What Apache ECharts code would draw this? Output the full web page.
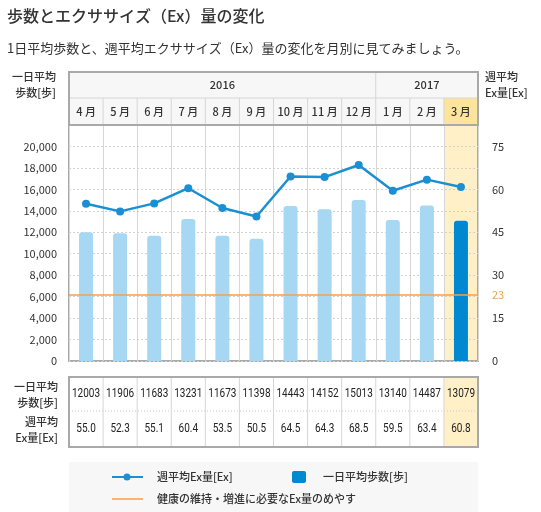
<!DOCTYPE html>
<html>
<head>
<meta charset="utf-8">
<script src="https://cdn.jsdelivr.net/npm/echarts@6/dist/echarts.min.js"></script>
<style>
html, body { margin: 0; padding: 0; background: #fff; }
#main { width: 541px; height: 512px; }
</style>
</head>
<body>
<div id="main"></div>
<script>
// データ
const months = ['4月', '5月', '6月', '7月', '8月', '9月', '10月', '11月', '12月', '1月', '2月', '3月'];
const steps = [12003, 11906, 11683, 13231, 11673, 11398, 14443, 14152, 15013, 13140, 14487, 13079];
const exValues = [55.0, 52.3, 55.1, 60.4, 53.5, 50.5, 64.5, 64.3, 68.5, 59.5, 63.4, 60.8];
const years = ['2016', '2017'];
const yearSpans = [9, 3];
const exTarget = 23;
const exTicks = [0, 15, 23, 30, 45, 60, 75];
const stepMax = 22000;
const exMax = 82.5;
const currentIndex = 11; // 3月を強調

const FONT = '"Noto Sans CJK JP", "Noto Sans", sans-serif';
const NUM_FONT = 'Roboto, "Noto Sans", sans-serif';
const TEXT = '#333';
const LINE_BLUE = '#1a8fd4';
const BAR_LIGHT = '#a6d7f3';
const BAR_DARK = '#0088d0';
const ORANGE = '#f5a04a';
const YELLOW_BODY = '#fff0c8';
const YELLOW_HEAD = '#fde49c';

const chart = echarts.init(document.getElementById('main'));

const highlight = months.map((m, i) => i === currentIndex ? stepMax : null);

chart.setOption({
    animation: false,
    textStyle: { fontFamily: FONT },
    grid: {
        left: 69, right: 63, top: 125, bottom: 151,
        show: true, borderColor: '#a9a9a9', borderWidth: 2
    },
    xAxis: [{
        type: 'category',
        data: months,
        axisLine: { show: false },
        axisTick: { show: false },
        axisLabel: { show: false },
        splitLine: { show: true, lineStyle: { color: '#d6d6d6', width: 1 } }
    }, {
        type: 'category',
        data: months,
        show: false
    }],
    yAxis: [{
        type: 'value',
        min: 0, max: stepMax, interval: 2000,
        axisLine: { show: false },
        axisTick: { show: false },
        axisLabel: {
            margin: 12, color: TEXT, fontSize: 11, fontFamily: FONT,
            formatter: v => v >= stepMax ? '' : v.toLocaleString('en-US')
        },
        splitLine: { show: true, lineStyle: { color: '#d2d2d2', type: [2, 2] } }
    }, {
        type: 'value',
        min: 0, max: exMax,
        axisLine: { show: false },
        axisTick: { show: false },
        splitLine: { show: false },
        axisLabel: {
            customValues: exTicks,
            margin: 14, fontSize: 11, fontFamily: FONT,
            color: v => Number(v) === exTarget ? ORANGE : TEXT
        }
    }],
    series: [{
        // 3月の背景
        type: 'bar',
        xAxisIndex: 1,
        data: highlight,
        barWidth: '100%',
        silent: true,
        z: -1,
        itemStyle: { color: YELLOW_BODY }
    }, {
        name: '一日平均歩数[歩]',
        type: 'bar',
        data: steps.map((v, i) => ({
            value: v,
            itemStyle: { color: i === currentIndex ? BAR_DARK : BAR_LIGHT }
        })),
        barWidth: 14,
        itemStyle: { borderRadius: [3, 3, 0, 0] }
    }, {
        name: '週平均Ex量[Ex]',
        type: 'line',
        yAxisIndex: 1,
        data: exValues,
        symbol: 'circle',
        symbolSize: 8,
        lineStyle: { color: LINE_BLUE, width: 2.5 },
        itemStyle: { color: LINE_BLUE },
        z: 4,
        markLine: {
            silent: true,
            symbol: 'none',
            label: { show: false },
            lineStyle: { color: ORANGE, width: 1.5, type: 'solid' },
            data: [{ yAxis: exTarget }]
        }
    }]
});

// 表・凡例などを座標から組み立てる
function buildGraphics() {
    const c0 = chart.convertToPixel({ xAxisIndex: 0 }, 0);
    const c1 = chart.convertToPixel({ xAxisIndex: 0 }, 1);
    const bw = c1 - c0;
    const left = c0 - bw / 2;
    const right = left + bw * months.length;
    const top = chart.convertToPixel({ yAxisIndex: 0 }, stepMax);
    const bottom = chart.convertToPixel({ yAxisIndex: 0 }, 0);
    const colX = i => left + bw * i;
    const els = [];

    const text = (x, y, str, opt = {}, extra = {}) => Object.assign({
        type: 'text', x: x, y: y, silent: true,
        style: Object.assign({
            text: str, fill: TEXT, font: '11px ' + FONT,
            align: 'center', verticalAlign: 'middle'
        }, opt)
    }, extra);
    const line = (x1, y1, x2, y2, color, dash) => ({
        type: 'line', silent: true,
        shape: { x1: x1, y1: y1, x2: x2, y2: y2 },
        style: { stroke: color, lineWidth: 1, lineDash: dash || null }
    });

    // タイトル
    els.push(text(7, 16, '歩数とエクササイズ（Ex）量の変化', { align: 'left', font: '500 16px ' + FONT, fill: '#333' }));
    els.push(text(7, 48, '1日平均歩数と、週平均エクササイズ（Ex）量の変化を月別に見てみましょう。', { align: 'left', font: '13px ' + FONT, fill: '#333' }));

    // 上のヘッダー
    const hTop = top - 53, hMid = top - 27;
    els.push({ type: 'rect', silent: true, shape: { x: left, y: hTop, width: right - left, height: top - hTop }, style: { fill: '#f7f7f7' } });
    els.push({ type: 'rect', silent: true, shape: { x: colX(currentIndex), y: hMid, width: bw, height: top - hMid }, style: { fill: YELLOW_HEAD } });
    els.push(line(left, hMid, right, hMid, '#d6d6d6'));
    let start = 0;
    years.forEach((y, k) => {
        const end = start + yearSpans[k];
        els.push(text((colX(start) + colX(end)) / 2, (hTop + hMid) / 2, y, { font: '500 11px ' + FONT }));
        if (k > 0) els.push(line(colX(start), hTop, colX(start), hMid, '#d6d6d6'));
        start = end;
    });
    months.forEach((m, i) => {
        if (i > 0) els.push(line(colX(i), hMid, colX(i), top, '#d6d6d6'));
        els.push(text(colX(i) + bw / 2, (hMid + top) / 2, m.replace('月', ' 月'), { font: '500 11px ' + FONT }));
    });
    els.push({ type: 'rect', silent: true, shape: { x: left, y: hTop, width: right - left, height: top - hTop }, style: { fill: null, stroke: '#a9a9a9', lineWidth: 2 } });

    // 軸見出し
    els.push(text(56, hTop + 5, '一日平均', { align: 'right', font: '500 11px ' + FONT }));
    els.push(text(56, hTop + 21, '歩数[歩]', { align: 'right', font: '500 11px ' + FONT }));
    els.push(text(right + 7, hTop + 5, '週平均', { align: 'left', font: '500 11px ' + FONT }));
    els.push(text(right + 7, hTop + 21, 'Ex量[Ex]', { align: 'left', font: '500 11px ' + FONT }));

    // 下の表
    const tTop = bottom + 16, tMid = tTop + 34, tBot = tTop + 70;
    els.push({ type: 'rect', silent: true, shape: { x: left, y: tTop, width: right - left, height: tBot - tTop }, style: { fill: '#fff' } });
    els.push({ type: 'rect', silent: true, shape: { x: colX(currentIndex), y: tTop, width: bw, height: tBot - tTop }, style: { fill: YELLOW_BODY } });
    els.push(line(left, tMid, right, tMid, '#c8c8c8', [1, 2]));
    months.forEach((m, i) => {
        if (i > 0) els.push(line(colX(i), tTop, colX(i), tBot, '#d6d6d6'));
        const cx = colX(i) + bw / 2;
        els.push(text(cx, (tTop + tMid) / 2, String(steps[i]), { font: '12.5px ' + NUM_FONT, fill: '#222' }, { scaleX: 0.8 }));
        els.push(text(cx, (tMid + tBot) / 2, exValues[i].toFixed(1), { font: '12.5px ' + NUM_FONT, fill: '#222' }, { scaleX: 0.8 }));
    });
    els.push({ type: 'rect', silent: true, shape: { x: left, y: tTop, width: right - left, height: tBot - tTop }, style: { fill: null, stroke: '#a9a9a9', lineWidth: 2 } });
    els.push(text(58, tTop + 10, '一日平均', { align: 'right', font: '500 11px ' + FONT }));
    els.push(text(58, tTop + 26, '歩数[歩]', { align: 'right', font: '500 11px ' + FONT }));
    els.push(text(58, tMid + 11, '週平均', { align: 'right', font: '500 11px ' + FONT }));
    els.push(text(58, tMid + 27, 'Ex量[Ex]', { align: 'right', font: '500 11px ' + FONT }));

    // 凡例
    const lTop = tBot + 15;
    els.push({ type: 'rect', silent: true, shape: { x: left, y: lTop, width: right - left, height: 512 - lTop }, style: { fill: '#f7f7f7' } });
    const r1 = lTop + 15, r2 = lTop + 37;
    els.push({ type: 'line', silent: true, shape: { x1: 112, y1: r1, x2: 143, y2: r1 }, style: { stroke: LINE_BLUE, lineWidth: 2 } });
    els.push({ type: 'circle', silent: true, shape: { cx: 127, cy: r1, r: 3.5 }, style: { fill: LINE_BLUE } });
    els.push(text(157, r1, '週平均Ex量[Ex]', { align: 'left', font: '500 11px ' + FONT }));
    els.push({ type: 'rect', silent: true, shape: { x: 292, y: r1 - 6, width: 14, height: 12, r: 2 }, style: { fill: BAR_DARK } });
    els.push(text(323, r1, '一日平均歩数[歩]', { align: 'left', font: '500 11px ' + FONT }));
    els.push({ type: 'line', silent: true, shape: { x1: 112, y1: r2, x2: 143, y2: r2 }, style: { stroke: ORANGE, lineWidth: 1.5 } });
    els.push(text(157, r2, '健康の維持・増進に必要なEx量のめやす', { align: 'left', font: '500 11px ' + FONT }));

    chart.setOption({ graphic: els });
}
buildGraphics();
</script>
</body>
</html>
